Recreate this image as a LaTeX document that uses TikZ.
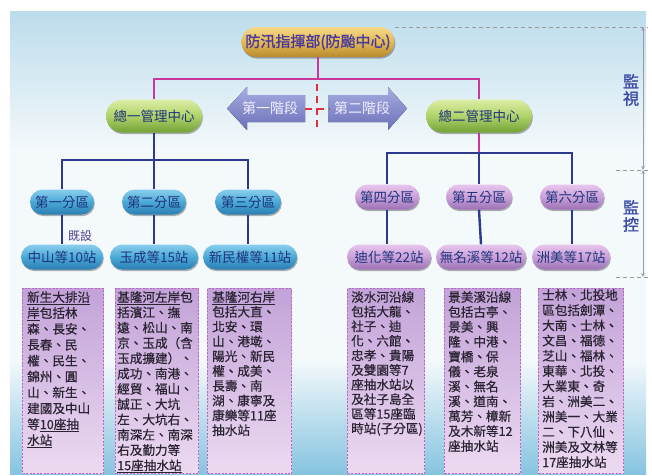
\documentclass[tikz,border=0pt]{standalone}
\usepackage{fontspec}
\newfontfamily\cjk{Noto Sans CJK TC}
\newfontfamily\cjkb[FakeBold=1.5]{Noto Sans CJK TC}
\newfontfamily\cjkm[FakeBold=0.6]{Noto Sans CJK TC}
\usetikzlibrary{shapes.misc,shadows,arrows.meta,calc}
\definecolor{cMag}{HTML}{C8389A}
\definecolor{cNavy}{HTML}{2B3990}
\definecolor{cRed}{HTML}{E0303C}
\definecolor{goldT}{HTML}{F4D886}
\definecolor{goldM}{HTML}{E2B955}
\definecolor{goldB}{HTML}{B8892C}
\definecolor{goldtxt}{HTML}{4B3A9C}
\definecolor{greenT}{HTML}{DCEEA4}
\definecolor{greenM}{HTML}{B0D26A}
\definecolor{greenB}{HTML}{72A236}
\definecolor{blueT}{HTML}{8ACFEE}
\definecolor{blueM}{HTML}{4AA8D6}
\definecolor{blueB}{HTML}{2A7EB2}
\definecolor{pinkT}{HTML}{E8C6EE}
\definecolor{pinkM}{HTML}{C9A0D8}
\definecolor{pinkB}{HTML}{9C72B6}
\definecolor{pilltxt}{HTML}{1E347C}
\definecolor{arrT}{HTML}{A8ADE2}
\definecolor{arrB}{HTML}{6A70B8}
\definecolor{arrtxt}{HTML}{F2F0FF}
\definecolor{boxT}{HTML}{C2A2D8}
\definecolor{boxB}{HTML}{EDDAF1}
\definecolor{boxedge}{HTML}{B868C0}
\definecolor{boxtxtc}{HTML}{2B2433}
\definecolor{brk}{HTML}{9C9A9E}
\definecolor{sidelbl}{HTML}{3A4AA8}
\definecolor{bgtop}{HTML}{BCDCEC}
\definecolor{bgmid}{HTML}{F4F9FB}
\definecolor{bgbot}{HTML}{86C4E0}
\definecolor{extxt}{HTML}{4A3A8A}
\tikzset{
  conn/.style={line width=2.4pt},
  magline/.style={conn, draw=cMag},
  navyline/.style={conn, draw=cNavy},
  reddashed/.style={draw=cRed, line width=2pt, dash pattern=on 7pt off 5pt},
  pill/.style={rounded rectangle, minimum height=25pt, inner sep=1pt, draw=none,
    drop shadow={shadow xshift=0.8pt, shadow yshift=-1.6pt, opacity=0.3, fill=black}},
  goldpill/.style={pill, top color=goldT, bottom color=goldB, middle color=goldM, text=goldtxt,
    font=\cjkb\fontsize{15}{15}\selectfont},
  greenpill/.style={pill, minimum height=33pt, top color=greenT, bottom color=greenB, middle color=greenM,
    text=pilltxt, font=\cjk\fontsize{13.5}{13.5}\selectfont},
  bluepill/.style={pill, top color=blueT, bottom color=blueB, middle color=blueM,
    text=pilltxt, font=\cjk\fontsize{13.5}{13.5}\selectfont},
  pinkpill/.style={pill, top color=pinkT, bottom color=pinkB, middle color=pinkM,
    text=pilltxt, font=\cjk\fontsize{13.5}{13.5}\selectfont},
  arrowfill/.style={top color=arrT, bottom color=arrB, draw=none},
  arrowtext/.style={text=arrtxt, font=\cjk\fontsize{14}{14}\selectfont, inner sep=0},
  pbox/.style={rectangle, draw=boxedge, line width=1pt, dash pattern=on 2pt off 1.5pt,
    top color=boxT, bottom color=boxB, inner sep=0, anchor=north west, minimum height=185pt},
  boxtxt/.style={anchor=north west, align=left, inner sep=0, text=boxtxtc,
    font=\cjkm\fontsize{12.6}{#1}\selectfont},
  guide/.style={draw=brk, line width=0.8pt, dash pattern=on 4pt off 3pt},
  brkline/.style={draw=brk, line width=0.9pt, {Stealth[length=4pt,width=3.5pt]}-{Stealth[length=4pt,width=3.5pt]}},
  sidetext/.style={text=sidelbl, align=center, font=\cjkb\fontsize{16}{17}\selectfont, inner sep=0}
}
\begin{document}
\begin{tikzpicture}[x=1pt,y=-1pt]
\useasboundingbox (0,0) rectangle (652,475);
% background
\fill[white] (0,0) rectangle (652,475);
\fill[top color=bgtop, bottom color=bgmid] (10,11) rectangle (646,150);
\fill[bgmid] (10,150) rectangle (646,360);
\fill[top color=bgmid, bottom color=bgbot] (10,360) rectangle (646,474);

% nodes
\node[goldpill, minimum width=155pt, minimum height=30pt] (top) at (318,42) {防汛指揮部(防颱中心)};
\node[greenpill, minimum width=98pt] (m1) at (154,116) {總一管理中心};
\node[greenpill, minimum width=108pt] (m2) at (479,116) {總二管理中心};

\node[bluepill, minimum width=66pt] (d1) at (62,202) {第一分區};
\node[bluepill, minimum width=66pt] (d2) at (154,202) {第二分區};
\node[bluepill, minimum width=68pt] (d3) at (248,202) {第三分區};
\node[pinkpill, minimum width=66pt] (d4) at (387,197) {第四分區};
\node[pinkpill, minimum width=68pt] (d5) at (479,197) {第五分區};
\node[pinkpill, minimum width=66pt] (d6) at (572,197) {第六分區};

\node[bluepill, minimum width=84pt] (s1) at (62,257) {中山等10站};
\node[bluepill, minimum width=90pt] (s2) at (154,257) {玉成等15站};
\node[bluepill, minimum width=96pt] (s3) at (250,257) {新民權等11站};
\node[pinkpill, minimum width=86pt] (s4) at (389,257) {迪化等22站};
\node[pinkpill, minimum width=92pt] (s5) at (481,257) {無名溪等12站};
\node[pinkpill, minimum width=80pt] (s6) at (571,257) {洲美等17站};

\node[text=extxt, font=\cjk\fontsize{12}{12}\selectfont, inner sep=0] (ex) at (80,236) {既設};

% stage arrows
\fill[arrowfill] (227,108.5) -- (247,87) -- (247,95) -- (305,95) -- (305,122) -- (247,122) -- (247,130) -- cycle;
\fill[arrowfill] (407,108.5) -- (388,87) -- (388,95) -- (328,95) -- (328,122) -- (388,122) -- (388,130) -- cycle;
\node[arrowtext] (a1) at (270,108.5) {第一階段};
\node[arrowtext] (a2) at (362,108.5) {第二階段};

% red dashed divider
\coordinate (rv1) at (317,84);
\coordinate (rv2) at (317,131);
\coordinate (rh1) at (305,109);
\coordinate (rh2) at (330,109);
\draw[reddashed] (rv1) -- (rv2);
\draw[reddashed] (rh1) -- (rh2);

% connectors
\coordinate (hb) at (318,79);
\coordinate (lb) at (154,160);
\coordinate (rb) at (479,153);
\begin{scope}[line join=miter]
\draw[magline] (top.south) -- (hb);
\draw[magline] (m1.north) |- (hb) -| (m2.north);
\draw[navyline] (m1.south) -- (lb);
\draw[navyline] (d1.north) |- (lb) -| (d3.north);
\draw[navyline] (lb) -- (d2.north);
\draw[magline] (m2.south) -- (rb);
\draw[navyline] (d4.north) |- (rb) -| (d6.north);
\draw[navyline] (rb) -- (d5.north);
\draw[navyline] (d1.south) -- (s1.north);
\draw[navyline] (d2.south) -- (s2.north);
\draw[navyline] (d3.south) -- (d3.south |- s3.north);
\draw[navyline] (d4.south) -- (d4.south |- s4.north);
\draw[navyline] (d5.south) -- (s5.north);
\draw[navyline] (d6.south) -- (d6.south |- s6.north);
\end{scope}

% side bracket
\coordinate (k1) at (643,27);
\coordinate (k2) at (643,170);
\coordinate (k3) at (643,277);
\coordinate (g1) at (395,27);
\coordinate (g2) at (616,170);
\coordinate (g3) at (616,277);
\coordinate (k1e) at (648,27);
\coordinate (k2e) at (648,170);
\coordinate (k3e) at (648,277);
\draw[guide] (g1) -- (k1e);
\draw[guide] (g2) -- (k2e);
\draw[guide] (g3) -- (k3e);
\draw[brkline] (k1) -- (k2);
\draw[brkline] (k2) -- (k3);
\node[sidetext] (lv) at (631,90) {監\\視};
\node[sidetext] (lc) at (631,216) {監\\控};

% station boxes
\node[pbox, minimum width=81pt] (b1) at (22,288) {};
\node[pbox, minimum width=83pt] (b2) at (115,288) {};
\node[pbox, minimum width=84pt] (b3) at (207,288) {};
\node[pbox, minimum width=77pt] (b4) at (347,288) {};
\node[pbox, minimum width=76pt] (b5) at (444,288) {};
\node[pbox, minimum width=85pt] (b6) at (538,288) {};

\node[boxtxt=15.9] (t1) at ([xshift=5pt,yshift=-3pt]b1.north west)
 {\underline{新生大排沿}\\\underline{岸}包括林\\森、長安、\\長春、民\\權、民生、\\錦州、圓\\山、新生、\\建國及中山\\等\underline{10座抽}\\\underline{水站}};
\node[boxtxt=15.3] (t2) at ([xshift=2pt,yshift=-3pt]b2.north west)
 {\underline{基隆河左岸}包\\括濱江、撫\\遠、松山、南\\京、玉成（含\\玉成擴建）、\\成功、南港、\\經貿、福山、\\誠正、大坑\\左、大坑右、\\南深左、南深\\右及勤力等\\\underline{15座抽水站}};
\node[boxtxt=14.8] (t3) at ([xshift=5pt,yshift=-3pt]b3.north west)
 {\underline{基隆河右岸}\\包括大直、\\北安、環\\山、港墘、\\陽光、新民\\權、成美、\\長壽、南\\湖、康寧及\\康樂等11座\\抽水站};
\node[boxtxt=14.6] (t4) at ([xshift=4pt,yshift=-3pt]b4.north west)
 {淡水河沿線\\包括大龍、\\社子、迪\\化、六館、\\忠孝、貴陽\\及雙園等7\\座抽水站以\\及社子島全\\區等15座臨\\時站(子分區)};
\node[boxtxt=14.9] (t5) at ([xshift=4pt,yshift=-3pt]b5.north west)
 {景美溪沿線\\包括古亭、\\景美、興\\隆、中港、\\寶橋、保\\儀、老泉\\溪、無名\\溪、道南、\\萬芳、樟新\\及木新等12\\座抽水站};
\node[boxtxt=15.2] (t6) at ([xshift=4pt,yshift=-1pt]b6.north west)
 {士林、北投地\\區包括劍潭、\\大南、士林、\\文昌、福德、\\芝山、福林、\\東華、北投、\\大業東、奇\\岩、洲美二、\\洲美一、大業\\二、下八仙、\\洲美及文林等\\17座抽水站};
\end{tikzpicture}
\end{document}
